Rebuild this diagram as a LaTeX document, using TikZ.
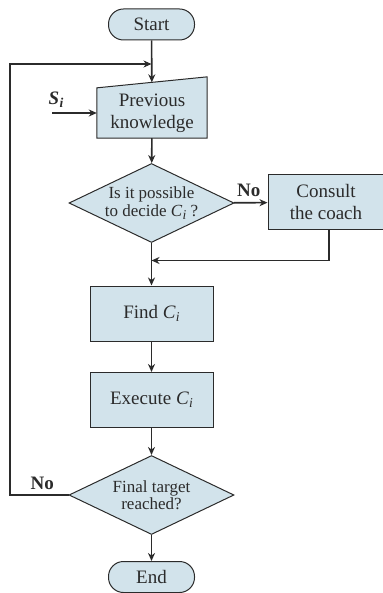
\documentclass[tikz,border=0pt]{standalone}
\usepackage{fontspec}
\setmainfont{Liberation Serif}
\usetikzlibrary{arrows.meta}
\usetikzlibrary{shapes.geometric}
\usetikzlibrary{positioning}

\definecolor{boxfill}{HTML}{D2E3EB}
\definecolor{ink}{HTML}{2B2B2B}
% italic letter with a lowered italic index
\newcommand{\vsub}[2]{\textit{#1}\kern0.3pt\raisebox{-0.35ex}{\fontsize{13.5}{13.5}\selectfont\textit{#2}}}

\begin{document}
\begin{tikzpicture}[x=1pt,y=-1pt,
  every node/.style={text=ink},
  block/.style={draw=ink,fill=boxfill,line width=1pt,minimum width=123pt,minimum height=55pt,
    inner sep=0pt,align=center,font=\fontsize{19}{22}\selectfont},
  term/.style={block,rounded corners=15pt,minimum width=86pt,minimum height=31pt},
  decision/.style={diamond,draw=ink,fill=boxfill,line width=1pt,aspect=2,inner sep=0pt,
    minimum width=165pt,minimum height=79pt,align=center,font=\fontsize{17}{17.5}\selectfont},
  flow/.style={draw=ink,line width=1.6pt,-{Stealth[length=8pt,width=7pt,inset=2.5pt]}},
  answer/.style={font=\fontsize{19}{22}\selectfont\bfseries,inner sep=2pt}]
\useasboundingbox (0,0) rectangle (382,593);

\node[term] (start) at (151.5,24.5) {Start};
% manual input box: the node gives the frame, the slanted top is drawn over it
\node[minimum width=110pt,minimum height=55.5pt,inner sep=0pt] (prev) at (152,110.3) {};
\filldraw[draw=ink,fill=boxfill,line width=1pt] (prev.south west) -- (prev.south east)
  -- ([yshift=5.5pt]prev.north east) -- ([yshift=-5.5pt]prev.north west) -- cycle;
\node[align=center,font=\fontsize{19}{22}\selectfont] (prevtext) at ([yshift=-3pt]prev.center) {Previous\\knowledge};
\node[decision] (decide) at (151.5,203) {Is it possible\\to decide \vsub{C}{i} ?};
\node[block,minimum width=116pt] (coach) at (326,202.5) {Consult\\the coach};
\node[block] (find) at (151.5,313.5) {Find \vsub{C}{i}};
\node[block] (exec) at (151.5,400) {Execute \vsub{C}{i}};
\node[decision] (target) at (151.5,495) {Final target\\reached?};
\node[term] (end) at (151.5,577) {End};

\node[font=\fontsize{19}{22}\selectfont\bfseries] (si) at (56,100) {\vsub{S}{i}};
\coordinate (sin) at (52,113);
\coordinate (merge) at (151.5,260.5);
\coordinate (loop) at (10,64);
\coordinate (join) at (151.5,64);

\draw[flow] (start) -- (prev);
\draw[flow] (sin) -- (sin -| prev.west);
\draw[flow] (prev) -- (decide);
\draw[flow] (decide) -- node[answer,above=3pt,xshift=-2pt]{No} (coach);
\draw[flow] ([xshift=3pt]coach.south) |- (merge);
\draw[flow] (decide) -- (find);
\draw[flow] (find) -- (exec);
\draw[flow] (exec) -- (target);
\draw[flow] (target) -- (end);
\draw[flow,line width=1.1pt] (target.west) -- node[answer,above=3pt,xshift=3pt]{No} (target.west -| loop) -- (loop) -- (join);
\end{tikzpicture}
\end{document}
